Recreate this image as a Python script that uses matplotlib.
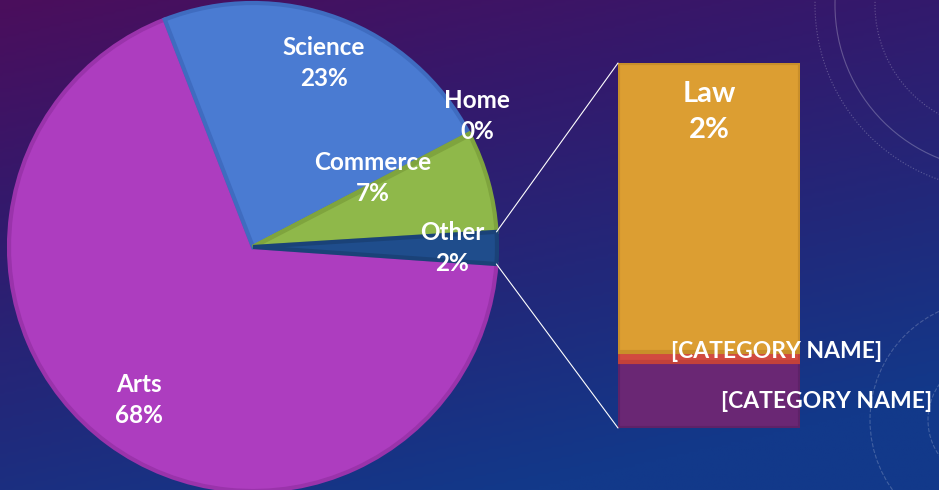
import numpy as np
import matplotlib
import matplotlib.pyplot as plt
from matplotlib.colors import LinearSegmentedColormap
from matplotlib.patches import Circle, ConnectionPatch

matplotlib.use('Agg')

# pie data (share of students, %), "Other" is split out in the bar
pie_labels = ['Arts', 'Science', 'Home', 'Commerce']
pie_values = [68.0, 23.2, 0.1, 6.6]
pie_colors = ['#ad3dbf', '#4a7bd2', '#8fb84a', '#8fb84a']
pie_edges = ['#9a33ab', '#3f6cc0', '#7fa43e', '#7fa43e']

bar_labels = ['[CATEGORY NAME]', '[CATEGORY NAME]', 'Law']
bar_values = [0.38, 0.06, 1.66]
bar_colors = ['#6a2774', '#d24a40', '#dc9e32']
bar_edges = ['#5e2268', '#c2413a', '#c98f2a']

other_value = sum(bar_values)
other_color = '#1f4d8c'

W, H = 939, 490
fig = plt.figure(figsize=(W / 100, H / 100), dpi=100)
plt.rcParams['font.family'] = ['Lato', 'DejaVu Sans']

# background gradient purple -> blue
bg = fig.add_axes([0, 0, 1, 1])
yy, xx = np.mgrid[0:1:200j, 0:1:400j]
t = np.clip(0.8 * yy + 0.35 * xx, 0, 1) / 1.15
cmap = LinearSegmentedColormap.from_list('bg', ['#4b0e5c', '#34196c', '#22287a', '#12398a'])
bg.imshow(t, cmap=cmap, aspect='auto', extent=(0, W, 0, H), origin='upper')
bg.set_xlim(0, W)
bg.set_ylim(0, H)
for r, ls in [(185, ':'), (165, '-'), (125, ':')]:
    bg.add_patch(Circle((1000, H - 5), r, fill=False, ec='white', lw=0.8, alpha=0.25, ls=ls))
for r in [62, 120]:
    bg.add_patch(Circle((990, 70), r, fill=False, ec='white', lw=0.8, alpha=0.2, ls='--'))
bg.axis('off')

# pie
ax = fig.add_axes([0, 0, 1, 1])
ax.patch.set_alpha(0)
values = pie_values + [other_value]
colors = pie_colors + [other_color]
edges = pie_edges + ['#1a4278']
wedges, _ = ax.pie(values, colors=colors, startangle=-4, counterclock=False,
                   center=(253, H - 247), radius=244, frame=True,
                   wedgeprops=dict(linewidth=3))
for w, ec in zip(wedges, edges):
    w.set_edgecolor(ec)
ax.set_xlim(0, W)
ax.set_ylim(0, H)
ax.set_aspect('equal')
ax.axis('off')

txt = dict(color='white', fontweight='bold', fontsize=17.5, ha='center', va='center',
           linespacing=1.45)
label_pos = {'Arts': (139, 400), 'Science': (324, 63), 'Home': (477, 116),
             'Commerce': (373, 178), 'Other': (452, 248)}
for name, v in zip(pie_labels + ['Other'], values):
    x, y = label_pos[name]
    ax.text(x, H - y, f'{name}\n{v:.0f}%', **txt)

# bar of "Other"
bx = fig.add_axes([618 / W, (H - 428) / H, 182 / W, 365 / H])
bx.patch.set_alpha(0)
bottom = 0
for v, c, ec in zip(bar_values, bar_colors, bar_edges):
    bx.bar(0, v, bottom=bottom, width=1, color=c, edgecolor=ec, linewidth=3)
    bottom += v
bx.set_xlim(-0.5, 0.5)
bx.set_ylim(0, other_value)
bx.axis('off')

bx.text(0.5, 1 - 49 / 365, f'{bar_labels[2]}\n{bar_values[2]:.0f}%', transform=bx.transAxes,
        **{**txt, 'fontsize': 21})
fig.text(777 / W, 1 - 351 / H, bar_labels[1], **{**txt, 'fontsize': 16.5})
fig.text(827 / W, 1 - 402 / H, bar_labels[0], **{**txt, 'fontsize': 16.5})

# connector lines between the "Other" wedge and the bar
ow = wedges[-1]
cx, cy = ow.center
for ang, corner in [(ow.theta2, (0, 1)), (ow.theta1, (0, 0))]:
    p = (cx + ow.r * np.cos(np.radians(ang)), cy + ow.r * np.sin(np.radians(ang)))
    con = ConnectionPatch(xyA=p, coordsA=ax.transData, xyB=corner, coordsB=bx.transAxes,
                          color='white', lw=0.8)
    fig.add_artist(con)

fig.savefig('out.png', dpi=100)
